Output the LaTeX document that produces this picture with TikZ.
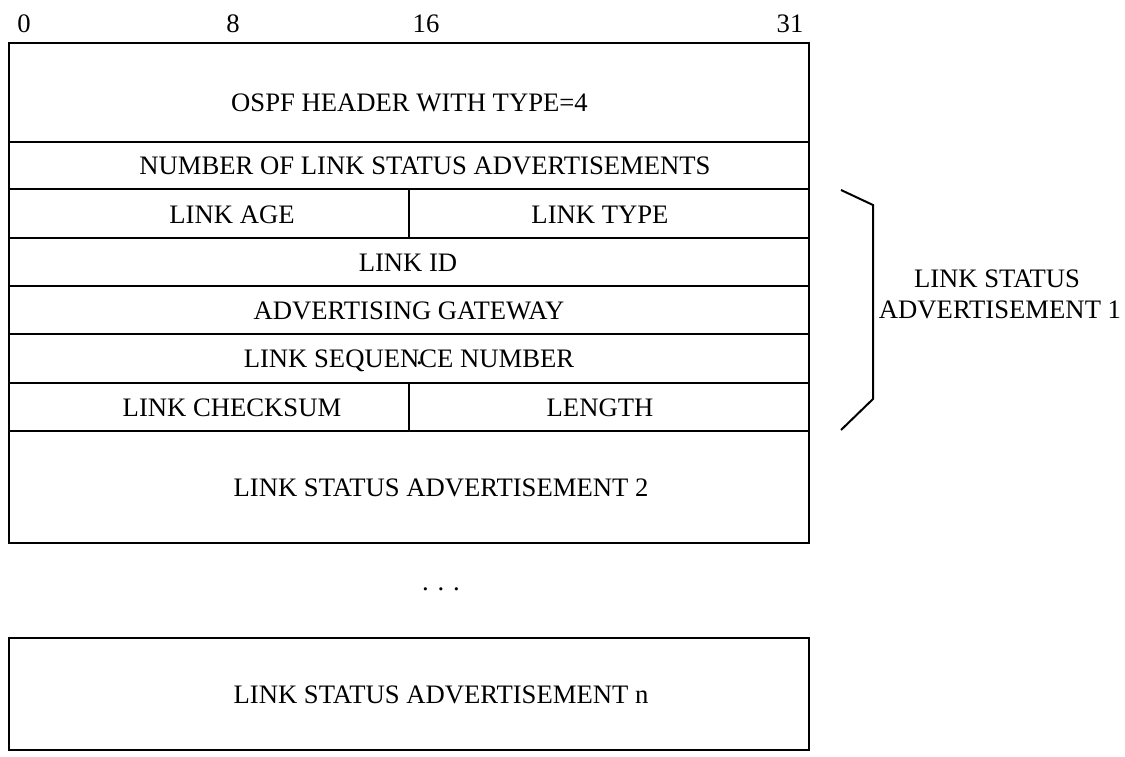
\documentclass[tikz,border=0pt]{standalone}
\usepackage{fontspec}
\setmainfont{Liberation Serif}
\begin{document}
\begin{tikzpicture}[x=0.75pt,y=-0.75pt,
  frame/.style={line width=2pt,line join=miter},
  brace/.style={line width=1.5pt,line join=miter},
  lbl/.style={anchor=base,inner sep=0pt,font=\fontsize{20}{23}\selectfont}]
\useasboundingbox (0,0) rectangle (1125,757);

% bit positions
\node[lbl] (b0)  at (24,32)  {0};
\node[lbl] (b8)  at (233,32) {8};
\node[lbl] (b16) at (426,32) {16};
\node[lbl] (b31) at (790,32) {31};

% packet frame
\draw[frame] (9,43) rectangle (809,543);
\foreach \yy in {142,189,238,286,334,383,431}
  \draw[frame] (9,\yy) -- (809,\yy);
\draw[frame] (409,189) -- (409,238);
\draw[frame] (409,383) -- (409,431);

% field labels
\node[lbl] (hdr)   at (409.5,111) {OSPF HEADER WITH TYPE=4};
\node[lbl] (num)   at (425,174)   {NUMBER OF LINK STATUS ADVERTISEMENTS};
\node[lbl] (age)   at (232,223)   {LINK AGE};
\node[lbl] (type)  at (600,223)   {LINK TYPE};
\node[lbl] (lid)   at (408,271)   {LINK ID};
\node[lbl] (gw)    at (409,319)   {ADVERTISING GATEWAY};
\node[lbl] (seq)   at (409,367.5) {LINK SEQUEN\raisebox{2pt}{\makebox[0pt]{.}}CE NUMBER};
\node[lbl] (cks)   at (232,416)   {LINK CHECKSUM};
\node[lbl] (len)   at (600,416)   {LENGTH};
\node[lbl] (lsa2)  at (441,496)   {LINK STATUS ADVERTISEMENT 2};

% ellipsis between advertisements
\node[lbl] (dots)  at (441,590)   {.\hspace{6.6pt}.\hspace{6.6pt}.};

% last advertisement
\draw[frame] (9,638) rectangle (809,750);
\node[lbl] (lsan)  at (441,703)   {LINK STATUS ADVERTISEMENT n};

% bracket for the first advertisement
\coordinate (bt) at (841,190);
\coordinate (bt2) at (873,205);
\coordinate (bb2) at (873,399);
\coordinate (bb) at (841,430);
\draw[brace] (bt) -- (bt2) -- (bb2) -- (bb);
\node[lbl] (lsa1a) at (997,287)  {LINK STATUS};
\node[lbl] (lsa1b) at (1000,318) {ADVERTISEMENT 1};
\end{tikzpicture}
\end{document}
